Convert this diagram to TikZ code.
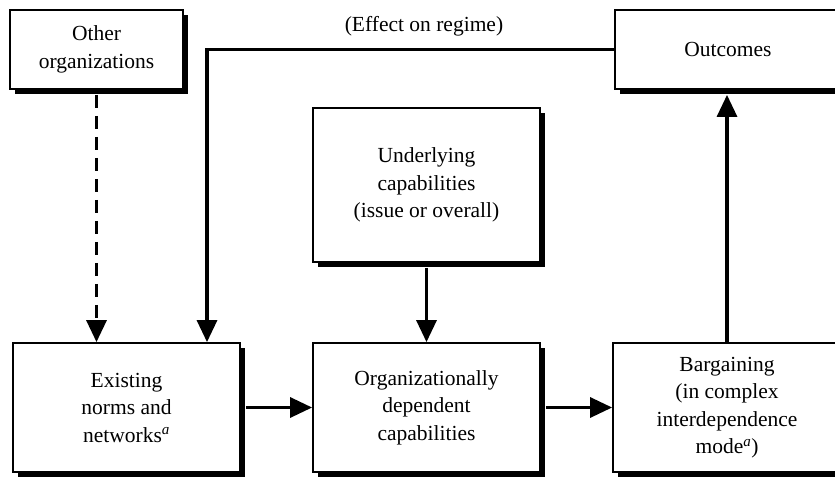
\documentclass[tikz,border=0pt]{standalone}
\usepackage{fontspec}
\setmainfont{Liberation Serif}
\usetikzlibrary{arrows.meta,shadows,calc}
\tikzset{
  box/.style={draw=black, line width=1.8pt, fill=white, align=center,
    inner sep=0pt, font=\fontsize{21.5}{27.5}\selectfont,
    drop shadow={shadow xshift=5pt, shadow yshift=-5pt, fill=black, opacity=1}},
  conn/.style={line width=3.2pt, -{Triangle[length=22pt,width=20pt]}},
}
\begin{document}
\begin{tikzpicture}[x=1pt,y=-1pt]
\useasboundingbox (0,0) rectangle (835,477);
\clip (0,0) rectangle (835,477);
\node[box, minimum width=173pt, minimum height=79pt] (other) at (96.5,49.5) {Other\\organizations};
\node[box, minimum width=226pt, minimum height=79pt] (outcomes) at (728,49.5) {Outcomes};
\node[box, minimum width=227pt, minimum height=154pt] (under) at (426.5,185) {Underlying\\capabilities\\(issue or overall)};
\node[box, minimum width=227pt, minimum height=129pt] (exist) at (126.5,407.5) {Existing\\norms and\\networks\textsuperscript{\itshape a}};
\node[box, minimum width=227pt, minimum height=129pt] (org) at (426.5,407.5) {Organizationally\\dependent\\capabilities};
\node[box, minimum width=228pt, minimum height=129pt] (barg) at (727,407.5) {Bargaining\\(in complex\\interdependence\\mode\textsuperscript{\itshape a})};
\node[font=\fontsize{21.5}{27.5}\selectfont] (eff) at (424,26) {(Effect on regime)};
\draw[conn, dash pattern=on 13pt off 8pt] ([yshift=-5pt]other.south) -- (other.south |- exist.north);
\coordinate (bend) at (207,49.5);
\draw[conn] (outcomes.west) -- (bend) -- (bend |- exist.north);
\draw[conn] ([yshift=-5pt]under.south) -- (org.north);
\draw[conn] ([xshift=5pt]exist.east) -- (org.west);
\draw[conn] ([xshift=5pt]org.east) -- (barg.west);
\draw[conn] (barg.north) -- ([yshift=-5pt]barg.north |- outcomes.south);
\end{tikzpicture}
\end{document}
